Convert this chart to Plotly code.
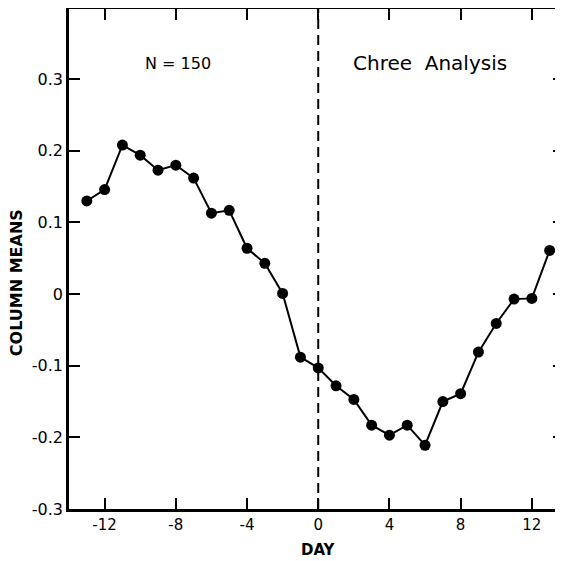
import plotly.graph_objects as go

days = list(range(-13, 14))
column_means = [0.130, 0.146, 0.208, 0.194, 0.173, 0.180, 0.162, 0.113, 0.117, 0.064,
                0.043, 0.001, -0.088, -0.103, -0.128, -0.147, -0.183, -0.197, -0.183,
                -0.211, -0.150, -0.139, -0.081, -0.041, -0.007, -0.006, 0.061]

x_tick_vals = [-12, -8, -4, 0, 4, 8, 12]
x_tick_text = ["-12", "-8", "-4", "0", "4", "8", "12"]
y_tick_vals = [0.3, 0.2, 0.1, 0, -0.1, -0.2, -0.3]
y_tick_text = ["0.3", "0.2", "0.1", "0", "-0.1", "-0.2", "-0.3"]

FONT = "DejaVu Sans, Liberation Sans, sans-serif"

fig = go.Figure()
fig.add_trace(go.Scatter(
    x=days, y=column_means, mode="lines+markers",
    line=dict(color="black", width=2),
    marker=dict(color="black", size=11),
    showlegend=False,
))
# invisible trace on right axis for right-side ticks
fig.add_trace(go.Scatter(x=days, y=column_means, yaxis="y2", mode="none",
                         showlegend=False, hoverinfo="skip"))

fig.add_vline(x=0, line=dict(color="black", width=2, dash="10px,6px"))

fig.update_layout(
    width=555, height=553,
    margin=dict(l=61, r=0, t=1, b=52, autoexpand=False),
    plot_bgcolor="white", paper_bgcolor="white",
    font=dict(family=FONT, color="black", size=15),
    xaxis=dict(
        range=[-14, 13.75], tickvals=x_tick_vals, ticktext=x_tick_text,
        ticks="inside", ticklen=11, tickwidth=2, tickcolor="black",
        showline=True, linecolor="black", linewidth=2.5, mirror="ticks",
        showgrid=False, zeroline=False, automargin=False,
        tickfont=dict(size=15),
    ),
    yaxis=dict(
        range=[-0.3, 0.398], tickvals=y_tick_vals, ticktext=y_tick_text,
        ticks="inside", ticklen=11, tickwidth=2, tickcolor="black",
        showline=True, linecolor="black", linewidth=2.5,
        showgrid=False, zeroline=False, automargin=False,
        tickfont=dict(size=16),
    ),
    yaxis2=dict(
        range=[-0.3, 0.398], tickvals=y_tick_vals, overlaying="y", side="right",
        ticks="inside", ticklen=10, tickwidth=2, tickcolor="black",
        showticklabels=False, showline=False, showgrid=False, zeroline=False,
        automargin=False,
    ),
    annotations=[
        dict(text="N = 150", xref="x", yref="y", x=-7.9, y=0.322,
             xanchor="center", yanchor="middle",
             showarrow=False, font=dict(size=16)),
        dict(text="Chree  Analysis", xref="x", yref="y", x=6.3, y=0.322,
             xanchor="center", yanchor="middle",
             showarrow=False, font=dict(size=20)),
        dict(text="<b>DAY</b>", xref="x", yref="paper", x=0, y=-0.082,
             xanchor="center", yanchor="middle",
             showarrow=False, font=dict(size=15)),
        dict(text="<b>COLUMN MEANS</b>", xref="paper", yref="paper", x=-0.107, y=0.452,
             xanchor="center", yanchor="middle",
             textangle=-90, showarrow=False, font=dict(size=16)),
    ],
)

fig.write_html("out.html")
